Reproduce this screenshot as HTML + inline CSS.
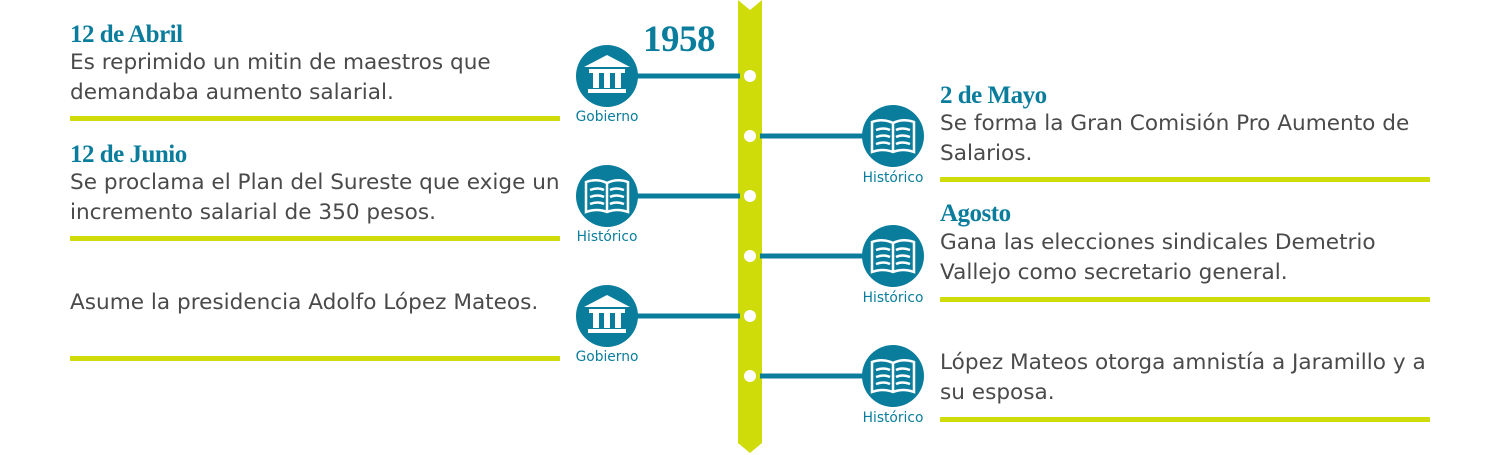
<!DOCTYPE html>
<html><head><meta charset="utf-8"><style>
body{margin:0;width:1500px;height:455px;background:#fff;position:relative;overflow:hidden;font-family:"DejaVu Sans","Liberation Sans",sans-serif}
.a{position:absolute}
.h{position:absolute;font-family:"Liberation Serif",serif;font-weight:bold;color:#0a7d9c;font-size:25px;letter-spacing:-0.5px}
.t{position:absolute;color:#4a4a4a;font-size:21.6px;line-height:30px;white-space:nowrap}
.u{position:absolute;height:5px;width:490px;background:#cfdc0a}
.lab{position:absolute;color:#0a7d9c;font-size:13.8px;width:90px;text-align:center}
</style></head><body>
<svg class="a" style="left:0;top:0" width="1500" height="455">
<polygon points="738,0 750,10 762,0 762,443 750,453 738,443" fill="#cfdc0a"/>
<g stroke="#0a7d9c" stroke-width="5">
<line x1="607" y1="76" x2="740" y2="76"/><line x1="607" y1="196" x2="740" y2="196"/><line x1="607" y1="316" x2="740" y2="316"/>
<line x1="760" y1="136" x2="893" y2="136"/><line x1="760" y1="256" x2="893" y2="256"/><line x1="760" y1="376" x2="893" y2="376"/>
</g>
<g fill="#fff"><circle cx="750" cy="76" r="6"/><circle cx="750" cy="136" r="6"/><circle cx="750" cy="196" r="6"/><circle cx="750" cy="256" r="6"/><circle cx="750" cy="316" r="6"/><circle cx="750" cy="376" r="6"/></g>
<defs>
<g id="gov"><circle r="31" fill="#0a7d9c"/><g fill="#fff"><polygon points="-23,-9 0,-21 23,-9"/><rect x="-18" y="-7" width="36" height="4"/><rect x="-14" y="-3" width="6" height="15"/><rect x="-3" y="-3" width="6" height="15"/><rect x="8" y="-3" width="6" height="15"/><rect x="-19" y="13" width="38" height="4"/></g></g>
<g id="book"><circle r="31" fill="#0a7d9c"/><g fill="none" stroke="#fff" stroke-width="2.5"><path d="M-21,-14 Q-10,-18 0,-13 Q10,-18 21,-14 V16 Q10,12 0,16 Q-10,12 -21,16 Z"/><line x1="0" y1="-13" x2="0" y2="16"/><path d="M-17,-6 Q-9,-9 -3,-6 M-17,1 Q-9,-2 -3,1 M-17,8 Q-9,5 -3,8 M3,-6 Q9,-9 17,-6 M3,1 Q9,-2 17,1 M3,8 Q9,5 17,8"/></g></g>
</defs>
<use href="#gov" x="607" y="76"/><use href="#book" x="607" y="196"/><use href="#gov" x="607" y="316"/>
<use href="#book" x="893" y="136"/><use href="#book" x="893" y="256"/><use href="#book" x="893" y="376"/>
</svg>
<div class="h" style="left:643px;top:18px;font-size:37px">1958</div>
<div class="lab" style="left:562px;top:109px">Gobierno</div>
<div class="lab" style="left:562px;top:229px">Histórico</div>
<div class="lab" style="left:562px;top:349px">Gobierno</div>
<div class="lab" style="left:848px;top:170px">Histórico</div>
<div class="lab" style="left:848px;top:290px">Histórico</div>
<div class="lab" style="left:848px;top:410px">Histórico</div>

<div class="h" style="left:70px;top:21px">12 de Abril</div>
<div class="t" style="left:70px;top:48px">Es reprimido un mitin de maestros que<br>demandaba aumento salarial.</div>
<div class="u" style="left:70px;top:116px"></div>
<div class="h" style="left:70px;top:141px">12 de Junio</div>
<div class="t" style="left:70px;top:168px">Se proclama el Plan del Sureste que exige un<br>incremento salarial de 350 pesos.</div>
<div class="u" style="left:70px;top:236px"></div>
<div class="t" style="left:70px;top:288px">Asume la presidencia Adolfo López Mateos.</div>
<div class="u" style="left:70px;top:356px"></div>

<div class="h" style="left:940px;top:82px">2 de Mayo</div>
<div class="t" style="left:940px;top:109px">Se forma la Gran Comisión Pro Aumento de<br>Salarios.</div>
<div class="u" style="left:940px;top:177px"></div>
<div class="h" style="left:940px;top:200px">Agosto</div>
<div class="t" style="left:940px;top:228px">Gana las elecciones sindicales Demetrio<br>Vallejo como secretario general.</div>
<div class="u" style="left:940px;top:297px"></div>
<div class="t" style="left:940px;top:348px">López Mateos otorga amnistía a Jaramillo y a<br>su esposa.</div>
<div class="u" style="left:940px;top:417px"></div>
</body></html>
